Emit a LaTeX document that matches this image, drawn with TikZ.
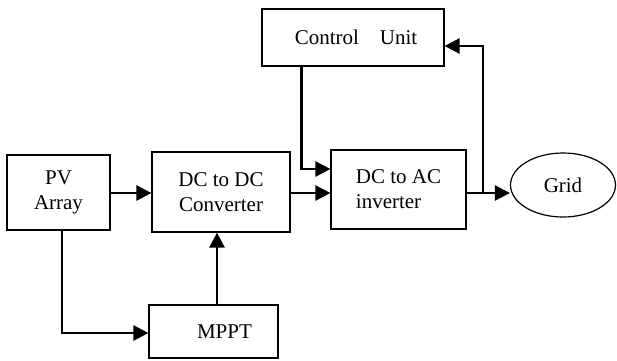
\documentclass[tikz,border=0pt]{standalone}
\usepackage{fontspec}
\setmainfont{Liberation Serif}
\usetikzlibrary{arrows.meta,shapes.geometric}
\tikzset{
  block/.style={draw, line width=0.6pt, inner sep=2pt, font=\fontsize{10.5}{12.5}\selectfont},
  conn/.style={line width=1.3pt, -{Triangle[length=7.5pt,width=7.5pt]}},
  wire/.style={line width=1.3pt}
}
\begin{document}
\begin{tikzpicture}[x=0.5pt, y=-0.5pt]
        \useasboundingbox (0,0) rectangle (617,360);

        \node [block, minimum width=51.5pt, minimum height=37.5pt, align=center] (pv) at (58.5,192.5) {PV\\Array};
        \node [block, minimum width=69pt, minimum height=40pt, align=center] (dcdc) at (221,192) {DC to DC\\Converter};
        \node [block, minimum width=64.5pt, minimum height=26.5pt] (mppt) at (213.5,331.5) {\hspace{11pt}MPPT};
        \node [block, minimum width=91pt, minimum height=28.5pt] (ctrl) at (353,37.5) {\hspace{3pt}Control\hspace{1em}Unit};
        \node [block, minimum width=67.5pt, minimum height=39.5pt, align=left] (dcac) at (398.5,189.5) {DC to AC\\inverter};
        \node [block, ellipse, minimum width=52.5pt, minimum height=32pt, inner sep=0pt] (grid) at (563,185) {Grid};

        \coordinate (split) at (483,193);

        \draw [conn] (pv.east |- 0,193) -- (dcdc.west |- 0,193);
        \draw [conn] ([xshift=1.75pt]pv.south) |- (mppt.west |- 0,333);
        \draw [conn] ([xshift=1.75pt]mppt.north) -- ([xshift=1.75pt]mppt.north |- dcdc.south);
        \draw [conn] (dcdc.east |- 0,193) -- (dcac.west |- 0,193);
        \draw [conn] ([xshift=20pt]ctrl.south west) |- (dcac.west |- 0,169);
        \draw [conn] (dcac.east |- split) -- (grid.west |- split);
        \draw [conn] (split) |- (ctrl.east |- 0,46);
    \end{tikzpicture}
\end{document}
